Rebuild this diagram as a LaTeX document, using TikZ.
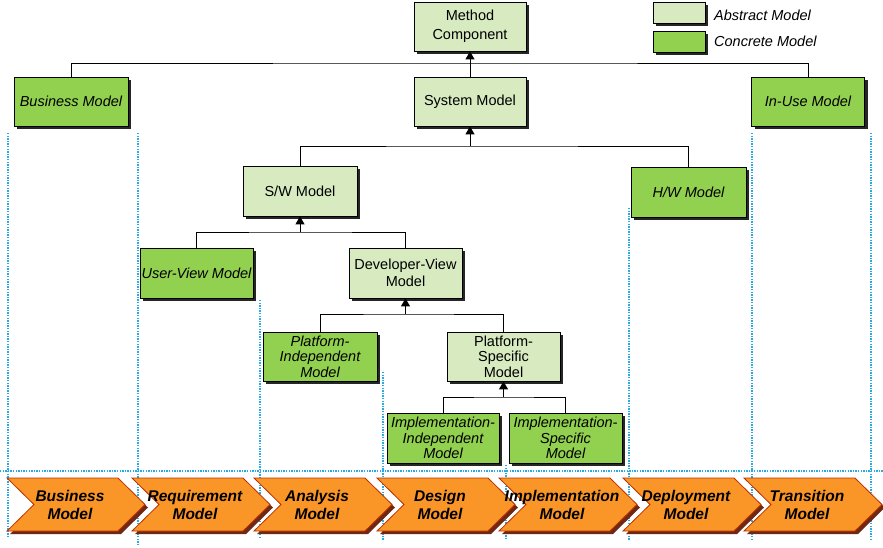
\documentclass[tikz,border=0pt]{standalone}
\usepackage{fontspec}
\setmainfont{Liberation Sans}
\usetikzlibrary{arrows.meta,shadows}
\definecolor{abstr}{RGB}{215,234,192}
\definecolor{concr}{RGB}{146,208,80}
\definecolor{chev}{RGB}{250,150,40}
\definecolor{chevline}{RGB}{190,50,0}
\definecolor{chevshadow}{RGB}{110,40,20}
\definecolor{guidecol}{RGB}{40,170,230}
\begin{document}
\begin{tikzpicture}[x=1pt,y=-1pt,
  box/.style={draw=black, line width=0.8pt, align=center, inner sep=0pt,
    font=\fontsize{14.5}{17}\selectfont,
    drop shadow={shadow xshift=3pt, shadow yshift=-3pt, fill=black!85, opacity=1}},
  sz/.style 2 args={minimum width=#1pt, minimum height=#2pt},
  absbox/.style={box, fill=abstr},
  conbox/.style={box, fill=concr, font=\fontsize{14.5}{17}\selectfont\itshape},
  tight/.append style={font=\fontsize{14.5}{15.5}\selectfont},
  tightit/.append style={font=\fontsize{14.5}{15.5}\selectfont\itshape},
  conn/.style={draw=black, line width=1pt},
  arr/.style={-{Triangle[width=9pt,length=8pt]}},
  guide/.style={draw=guidecol, line width=1.7pt, dash pattern=on 1.3pt off 1.3pt},
  chevtext/.style={align=center, inner sep=0pt, font=\fontsize{15.5}{18}\selectfont\bfseries\itshape},
  legtext/.style={anchor=west, inner sep=0pt, font=\fontsize{14.5}{17}\selectfont\itshape}
]
\useasboundingbox (0,0) rectangle (883,547);

% legend
\node[absbox, sz={52}{21}] (LA) at (679,12.5) {};
\node[conbox, sz={52}{21}] (LC) at (679,41.5) {};
\node[legtext] (LAt) at (714,15) {Abstract Model};
\node[legtext] (LCt) at (714,41) {Concrete Model};

% boxes
\node[absbox, sz={112}{49}, font=\fontsize{14.5}{19}\selectfont] (MC) at (470,26.5) {Method\\Component};
\node[absbox, sz={112}{49}] (SM) at (470,101.5) {System Model};
\node[conbox, sz={114}{49}] (BM) at (71,101.5) {Business Model};
\node[conbox, sz={113}{49}] (IU) at (808,101.5) {In-Use Model};
\node[absbox, sz={114}{50}] (SW) at (300,191) {S/W Model};
\node[conbox, sz={115}{50}] (HW) at (688.5,192) {H/W Model};
\node[conbox, sz={113}{50}] (UV) at (196.5,273) {User-View Model};
\node[absbox, sz={113}{50}] (DV) at (405.5,273) {Developer-View\\Model};
\node[conbox, tightit, sz={114}{49}] (PI) at (320,356.5) {Platform-\\Independent\\Model};
\node[absbox, tight, sz={113}{49}] (PS) at (503.5,356.5) {Platform-\\Specific\\Model};
\node[conbox, tightit, sz={112}{50}] (II) at (443,438) {Implementation-\\Independent\\Model};
\node[conbox, tightit, sz={113}{50}] (IS) at (565.5,438) {Implementation-\\Specific\\Model};

% connectors
\coordinate (j1) at (470,63);
\draw[conn] (BM.north) |- (j1) -| (IU.north);
\draw[conn,arr] (SM.north) -- (MC.south);
\coordinate (j2) at (470,146);
\draw[conn] (SW.north) |- (j2) -| (HW.north);
\draw[conn,arr] (j2) -- (SM.south);
\coordinate (j3) at (300,232);
\draw[conn] (UV.north) |- (j3) -| (DV.north);
\draw[conn,arr] (j3) -- (SW.south);
\coordinate (j4) at (405.5,314);
\draw[conn] (PI.north) |- (j4) -| (PS.north);
\draw[conn,arr] (j4) -- (DV.south);
\coordinate (j5) at (503.5,397);
\draw[conn] (II.north) |- (j5) -| (IS.north);
\draw[conn,arr] (j5) -- (PS.south);

% guide lines
\draw[guide] (8,133) -- (8,537);
\draw[guide] (138,133) -- (138,545);
\draw[guide] (260,300) -- (260,537);
\draw[guide] (383,372) -- (383,540);
\draw[guide] (506,465) -- (506,540);
\draw[guide] (629,208) -- (629,540);
\draw[guide] (752,133) -- (752,540);
\draw[guide] (871,133) -- (871,540);
\draw[guide] (0,471) -- (883,471);

% chevrons
\foreach \L/\t [count=\k] in {7/{Business\\Model}, 132/{Requirement\\Model}, 254/{Analysis\\Model}, 377/{Design\\Model}, 499/{Implementation\\Model}, 623/{Deployment\\Model}, 744/{Transition\\Model}} {
  \fill[chevshadow] (\L+3,481) -- (\L+114,481) -- (\L+141,507.5) -- (\L+114,534) -- (\L+3,534) -- (\L+30,507.5) -- cycle;
  \filldraw[fill=chev, draw=chevline, line width=0.8pt] (\L,478) -- (\L+111,478) -- (\L+138,504.5) -- (\L+111,531) -- (\L,531) -- (\L+27,504.5) -- cycle;
  \node[chevtext] (ch\k) at (\L+63,504.5) {\t};
}
\end{tikzpicture}
\end{document}
